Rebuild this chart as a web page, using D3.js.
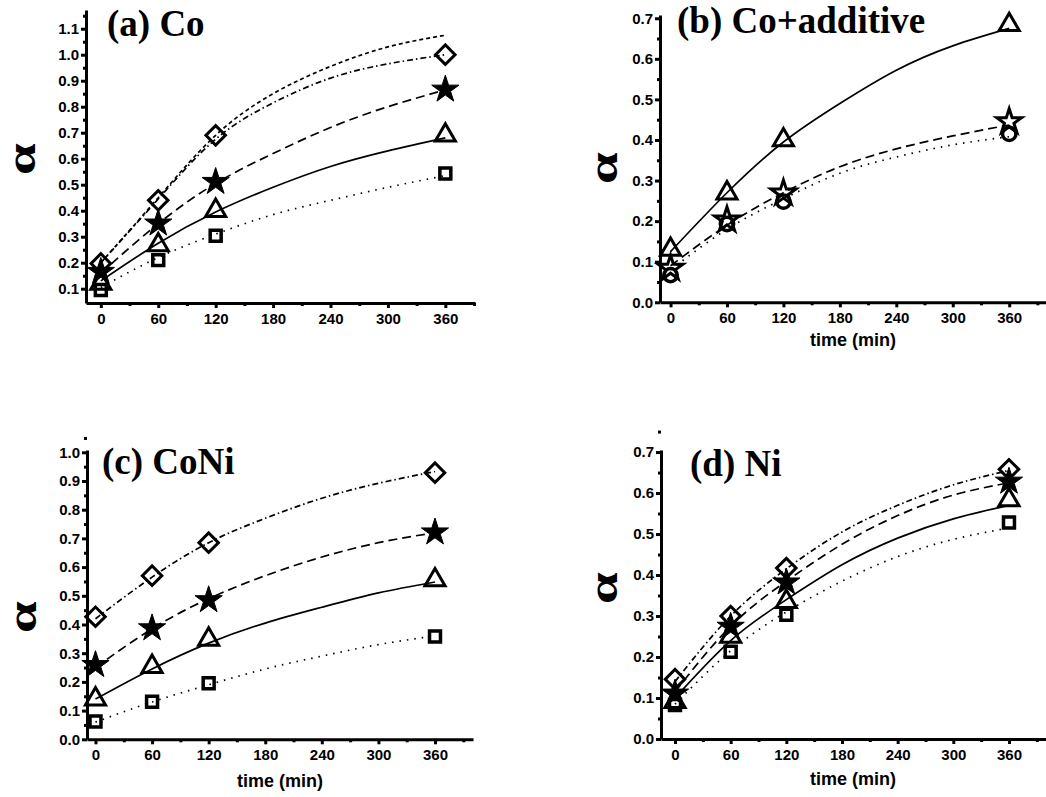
<!DOCTYPE html>
<html>
<head>
<meta charset="utf-8">
<script src="https://cdn.jsdelivr.net/npm/d3@7"></script>
<style>
  body { margin: 0; background: #fff; }
  svg { display: block; }
</style>
</head>
<body>
<div id="chart"></div>
<script>
const sampleTimes = [0, 60, 120, 360];
const fitTimes = [0, 60, 120, 180, 240, 300, 360];
const xTicks = [0, 60, 120, 180, 240, 300, 360];
const xMinorTicks = [30, 90, 150, 210, 270, 330, 390];

// (a) Co
const coSquare = [0.095, 0.21, 0.304, 0.543];
const coTriangle = [0.12, 0.268, 0.40, 0.69];
const coStar = [0.165, 0.351, 0.511, 0.866];
const coDiamond = [0.197, 0.44, 0.69, 1.0];
const coFitSquare = [0.105, 0.22, 0.31, 0.385, 0.44, 0.49, 0.535];
const coFitTriangle = [0.13, 0.275, 0.395, 0.49, 0.57, 0.63, 0.68];
const coFitStar = [0.16, 0.35, 0.505, 0.62, 0.72, 0.80, 0.865];
const coFitDiamond = [0.2, 0.445, 0.675, 0.815, 0.91, 0.965, 1.0];
const coFitUpper = [0.2, 0.45, 0.69, 0.85, 0.955, 1.03, 1.075];
const coYTicks = [0.1, 0.2, 0.3, 0.4, 0.5, 0.6, 0.7, 0.8, 0.9, 1.0, 1.1];

// (b) Co+additive
const addTriangle = [0.13, 0.269, 0.40, 0.684];
const addStar = [0.084, 0.203, 0.269, 0.445];
const addCircle = [0.067, 0.193, 0.248, 0.415];
const addFitTriangle = [0.125, 0.27, 0.395, 0.49, 0.572, 0.632, 0.675];
const addFitStar = [0.09, 0.19, 0.27, 0.334, 0.378, 0.41, 0.437];
const addFitCircle = [0.08, 0.18, 0.255, 0.318, 0.358, 0.388, 0.408];
const addYTicks = [0.0, 0.1, 0.2, 0.3, 0.4, 0.5, 0.6, 0.7];

// (c) CoNi
const coniDiamond = [0.427, 0.570, 0.685, 0.929];
const coniStar = [0.259, 0.387, 0.485, 0.721];
const coniTriangle = [0.14, 0.253, 0.348, 0.555];
const coniSquare = [0.062, 0.131, 0.195, 0.358];
const coniFitDiamond = [0.42, 0.565, 0.685, 0.77, 0.84, 0.892, 0.933];
const coniFitStar = [0.25, 0.385, 0.49, 0.57, 0.635, 0.685, 0.72];
const coniFitTriangle = [0.14, 0.245, 0.335, 0.405, 0.46, 0.51, 0.548];
const coniFitSquare = [0.06, 0.13, 0.19, 0.245, 0.29, 0.33, 0.36];
const coniYTicks = [0.0, 0.1, 0.2, 0.3, 0.4, 0.5, 0.6, 0.7, 0.8, 0.9, 1.0];

// (d) Ni
const niDiamond = [0.146, 0.30, 0.417, 0.658];
const niStar = [0.111, 0.274, 0.382, 0.628];
const niTriangle = [0.091, 0.25, 0.335, 0.583];
const niSquare = [0.083, 0.213, 0.303, 0.528];
const niFitDiamond = [0.14, 0.30, 0.415, 0.505, 0.57, 0.62, 0.655];
const niFitStar = [0.115, 0.275, 0.385, 0.475, 0.545, 0.595, 0.625];
const niFitTriangle = [0.10, 0.24, 0.34, 0.425, 0.49, 0.537, 0.57];
const niFitSquare = [0.085, 0.215, 0.31, 0.385, 0.445, 0.487, 0.515];
const niYTicks = [0.0, 0.1, 0.2, 0.3, 0.4, 0.5, 0.6, 0.7];

// dash patterns for the fitted curves
const DOTTED = '1.5,6';
const SOLID = null;
const LONG_DASH = '9,5';
const DASH_DOT = '6,3,1.5,3';
const SHORT_DASH = '4,3';

const SANS = "'Liberation Sans', Arial, sans-serif";
const SERIF = "'Liberation Serif', 'Times New Roman', serif";

class KineticsPanel {

  constructor(_config, _series) {
    this.config = _config;
    this.series = _series;
    this.initVis();
  }

  initVis() {
    let vis = this;
    const c = vis.config;

    vis.xScale = d3.scaleLinear().domain(c.xDomain).range([c.left, c.right]);
    vis.yScale = d3.scaleLinear().domain(c.yDomain).range([c.bottom, c.top]);

    vis.g = c.svg.append('g');

    const styleAxis = g => {
      g.selectAll('path, line').attr('stroke', '#000').attr('stroke-width', 3);
      g.selectAll('text')
          .style('font-family', SANS)
          .style('font-weight', 'bold')
          .style('font-size', '15px')
          .attr('fill', '#000');
    };

    // minor ticks first, major axis on top
    vis.g.append('g')
        .attr('transform', `translate(0,${c.bottom})`)
        .call(d3.axisBottom(vis.xScale).tickValues(xMinorTicks).tickSize(3).tickFormat(''))
        .call(g => g.select('.domain').remove())
        .call(styleAxis);

    vis.g.append('g')
        .attr('transform', `translate(${c.left},0)`)
        .call(d3.axisLeft(vis.yScale).tickValues(c.yTicks.map(v => v + 0.05)).tickSize(3).tickFormat(''))
        .call(g => g.select('.domain').remove())
        .call(styleAxis);

    vis.g.append('g')
        .attr('transform', `translate(0,${c.bottom})`)
        .call(d3.axisBottom(vis.xScale).tickValues(xTicks).tickSize(5).tickSizeOuter(0).tickPadding(5))
        .call(styleAxis);

    vis.g.append('g')
        .attr('transform', `translate(${c.left},0)`)
        .call(d3.axisLeft(vis.yScale).tickValues(c.yTicks).tickSize(5).tickSizeOuter(0).tickPadding(2)
            .tickFormat(d3.format('.1f')))
        .call(styleAxis);

    // panel title
    vis.g.append('text')
        .attr('x', c.titleX)
        .attr('y', c.titleY)
        .style('font-family', SERIF)
        .style('font-weight', 'bold')
        .style('font-size', '37px')
        .text(c.title);

    // rotated alpha on the y axis (x is the baseline), stretched along the axis
    vis.g.append('text')
        .attr('text-anchor', 'middle')
        .attr('transform', `translate(${c.alphaX},${c.alphaY}) rotate(-90) scale(1.5,1.05)`)
        .style('font-family', SERIF)
        .style('font-weight', 'bold')
        .style('font-size', '38px')
        .text('α');

    if (c.xLabel) {
      vis.g.append('text')
          .attr('text-anchor', 'middle')
          .attr('x', c.xLabelX)
          .attr('y', c.xLabelY)
          .style('font-family', SANS)
          .style('font-weight', 'bold')
          .style('font-size', '18px')
          .text(c.xLabel);
    }

    vis.renderVis();
  }

  renderVis() {
    let vis = this;

    const line = d3.line()
        .x(d => vis.xScale(d[0]))
        .y(d => vis.yScale(d[1]))
        .curve(d3.curveNatural);

    vis.series.forEach(s => {
      vis.g.append('path')
          .attr('d', line(fitTimes.map((t, i) => [t, s.fit[i]])))
          .attr('fill', 'none')
          .attr('stroke', '#000')
          .attr('stroke-width', 1.7)
          .attr('stroke-dasharray', s.dash);
    });

    vis.series.filter(s => s.points).forEach(s => {
      const sym = markerSymbol(s.marker);
      vis.g.selectAll(null)
          .data(sampleTimes.map((t, i) => [t, s.points[i]]))
          .join('path')
          .attr('d', sym.path)
          .attr('transform', d => `translate(${vis.xScale(d[0])},${vis.yScale(d[1])}) rotate(${sym.rotate})`)
          .attr('fill', sym.fill)
          .attr('stroke', '#000')
          .attr('stroke-width', sym.stroke)
          .attr('stroke-linejoin', 'miter');
    });
  }
}

function markerSymbol(kind) {
  switch (kind) {
    case 'square':   return {path: d3.symbol(d3.symbolSquare, 120)(), rotate: 0, fill: 'none', stroke: 3.5};
    case 'triangle': return {path: d3.symbol(d3.symbolTriangle, 175)(), rotate: 0, fill: 'none', stroke: 3};
    case 'star':     return {path: d3.symbol(d3.symbolStar, 230)(), rotate: 0, fill: '#000', stroke: 1};
    case 'openstar': return {path: d3.symbol(d3.symbolStar, 190)(), rotate: 0, fill: 'none', stroke: 3};
    case 'diamond':  return {path: d3.symbol(d3.symbolSquare, 190)(), rotate: 45, fill: 'none', stroke: 3};
    case 'circle':   return {path: d3.symbol(d3.symbolCircle, 140)(), rotate: 0, fill: 'none', stroke: 3.5};
  }
}

const svg = d3.select('#chart').append('svg')
    .attr('width', 1046)
    .attr('height', 797);

new KineticsPanel({
  svg: svg, left: 86, right: 475, top: 10, bottom: 303,
  xDomain: [-15.5, 391], yDomain: [0.045, 1.172], yTicks: coYTicks,
  title: '(a) Co', titleX: 107, titleY: 36, alphaX: 35, alphaY: 159
}, [
  {fit: coFitUpper, dash: SHORT_DASH},
  {points: coDiamond, fit: coFitDiamond, marker: 'diamond', dash: DASH_DOT},
  {points: coStar, fit: coFitStar, marker: 'star', dash: LONG_DASH},
  {points: coTriangle, fit: coFitTriangle, marker: 'triangle', dash: SOLID},
  {points: coSquare, fit: coFitSquare, marker: 'square', dash: DOTTED}
]);

new KineticsPanel({
  svg: svg, left: 660, right: 1060, top: 15, bottom: 302.3,
  xDomain: [-11.2, 414], yDomain: [0, 0.708], yTicks: addYTicks,
  title: '(b) Co+additive', titleX: 677, titleY: 33, alphaX: 617, alphaY: 168,
  xLabel: 'time (min)', xLabelX: 853, xLabelY: 346
}, [
  {points: addTriangle, fit: addFitTriangle, marker: 'triangle', dash: SOLID},
  {points: addStar, fit: addFitStar, marker: 'openstar', dash: LONG_DASH},
  {points: addCircle, fit: addFitCircle, marker: 'circle', dash: DOTTED}
]);

new KineticsPanel({
  svg: svg, left: 87, right: 473, top: 450, bottom: 739.3,
  xDomain: [-9, 400.3], yDomain: [0, 1.008], yTicks: coniYTicks,
  title: '(c) CoNi', titleX: 102, titleY: 474, alphaX: 36, alphaY: 617,
  xLabel: 'time (min)', xLabelX: 280, xLabelY: 787
}, [
  {points: coniDiamond, fit: coniFitDiamond, marker: 'diamond', dash: DASH_DOT},
  {points: coniStar, fit: coniFitStar, marker: 'star', dash: LONG_DASH},
  {points: coniTriangle, fit: coniFitTriangle, marker: 'triangle', dash: SOLID},
  {points: coniSquare, fit: coniFitSquare, marker: 'square', dash: DOTTED}
]);

new KineticsPanel({
  svg: svg, left: 661, right: 1060, top: 450, bottom: 739,
  xDomain: [-15.1, 415], yDomain: [0, 0.705], yTicks: niYTicks,
  title: '(d) Ni', titleX: 690, titleY: 476, alphaX: 617, alphaY: 588,
  xLabel: 'time (min)', xLabelX: 853, xLabelY: 785
}, [
  {points: niDiamond, fit: niFitDiamond, marker: 'diamond', dash: DASH_DOT},
  {points: niStar, fit: niFitStar, marker: 'star', dash: LONG_DASH},
  {points: niTriangle, fit: niFitTriangle, marker: 'triangle', dash: SOLID},
  {points: niSquare, fit: niFitSquare, marker: 'square', dash: DOTTED}
]);
</script>
</body>
</html>
